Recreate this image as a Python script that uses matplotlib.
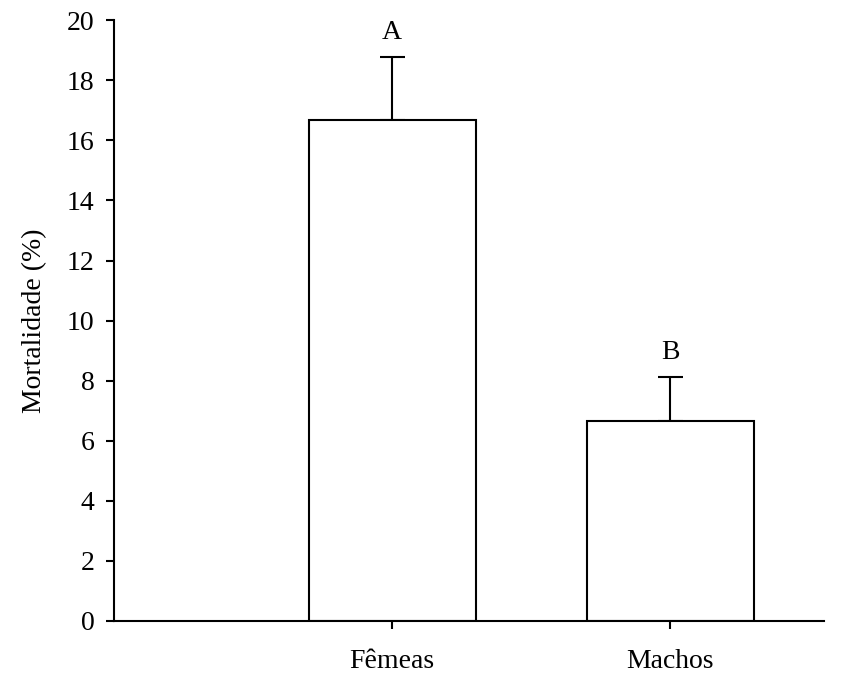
import matplotlib
matplotlib.use("Agg")
import matplotlib.pyplot as plt

# mortality by sex, mean and error, with significance letters
sexes = ["Fêmeas", "Machos"]
mortality = [16.67, 6.67]
errors = [2.1, 1.45]
letters = ["A", "B"]

plt.rcParams["font.family"] = ["Liberation Serif", "DejaVu Serif"]
plt.rcParams["font.size"] = 20

fig = plt.figure(figsize=(8.64, 6.75), dpi=100)
ax = fig.add_axes([0.132, 0.08, 0.822, 0.89])

positions = list(range(len(sexes)))
ax.bar(positions, mortality, width=0.6, color="white", edgecolor="black",
       linewidth=1.5, zorder=2)
ax.errorbar(positions, mortality, yerr=[[0] * len(errors), errors],
            fmt="none", ecolor="black", elinewidth=1.5, capsize=9,
            capthick=1.5, zorder=1)

# letters sit just above the top of each error bar
for x, m, e, letter in zip(positions, mortality, errors, letters):
    ax.text(x, m + e + 0.6, letter, ha="center", va="baseline", fontsize=20)

ax.set_xlim(-1.0, 1.553)
ax.set_ylim(0, 20)
ax.set_yticks(range(0, 21, 2))
ax.set_xticks(positions)
ax.set_xticklabels(sexes)
ax.set_ylabel("Mortalidade (%)", labelpad=14)

for side in ("top", "right"):
    ax.spines[side].set_visible(False)
for side in ("left", "bottom"):
    ax.spines[side].set_linewidth(1.5)
ax.tick_params(axis="both", direction="out", length=6, width=1.5)
ax.tick_params(axis="y", pad=8)
ax.tick_params(axis="x", pad=14)

fig.savefig("out.png", dpi=100)
